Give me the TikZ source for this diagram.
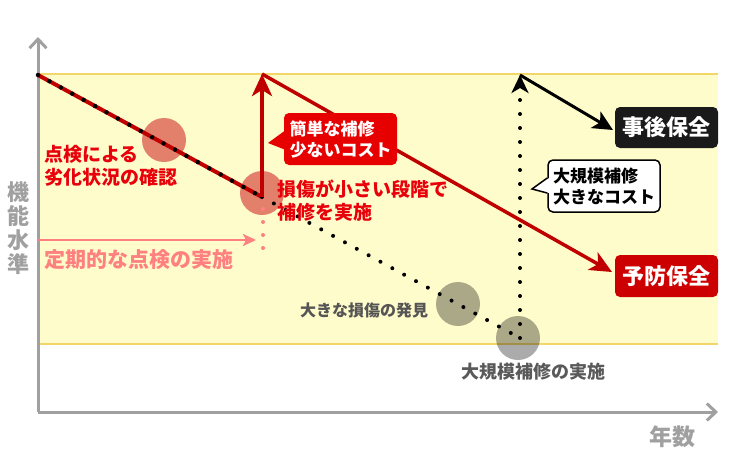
\documentclass[tikz,border=0pt]{standalone}
\usepackage{fontspec}
\setmainfont{Noto Sans CJK JP}
\usepackage{tikz}
\usetikzlibrary{arrows.meta,calc}
\definecolor{lineRed}{HTML}{C00000}
\definecolor{textRed}{HTML}{E8000B}
\definecolor{boxRed}{HTML}{E60000}
\definecolor{tagRed}{HTML}{CC0000}
\definecolor{bandYellow}{HTML}{FFFCCB}
\definecolor{bandLine}{HTML}{F3D66A}
\definecolor{axisGray}{HTML}{A0A0A0}
\definecolor{spotSalmon}{HTML}{E3806B}
\definecolor{checkPink}{HTML}{FF8080}
\definecolor{darkBox}{HTML}{1A1A1A}
\definecolor{noteGray}{HTML}{555555}
\tikzset{
  redtext/.style={font=\fontsize{19}{23}\selectfont\bfseries, text=textRed, align=left, inner sep=0pt},
  notebox/.style={rounded corners=5pt, font=\fontsize{17}{21}\selectfont\bfseries, align=left, minimum width=112pt, minimum height=52pt},
  tagbox/.style={rounded corners=5pt, font=\fontsize{22}{26}\selectfont\bfseries, text=white, minimum width=103pt, minimum height=41pt},
  dotline/.style={line width=4.5pt, dash pattern=on 0pt off 13pt, line cap=round},
  bigtip/.style={-{Stealth[length=22pt,width=20pt,inset=6pt]}}
}

\begin{document}
\begin{tikzpicture}[x=1pt, y=-1pt]
\useasboundingbox (0,0) rectangle (742,466);
% band of the function level
\fill[bandYellow] (38,74) rectangle (718,344);
\draw[bandLine, line width=2.5pt] (38,74) -- (718,74);
\draw[bandLine, line width=2.5pt] (38,344) -- (718,344);
% axes
\coordinate (origin) at (38,412);
\coordinate (ytop) at (38,37);
\coordinate (xend) at (718,412);
\draw[axisGray, line width=3pt, -{Straight Barb[length=9pt,width=17pt]}] (origin) -- (ytop);
\draw[axisGray, line width=3pt, -{Straight Barb[length=9pt,width=17pt]}] (origin) -- (xend);
\node[axisGray, font=\fontsize{22}{24}\selectfont\bfseries, align=center, inner sep=0pt] (ylabel) at (19,228) {機\\能\\水\\準};
\node[axisGray, font=\fontsize{23}{26}\selectfont\bfseries, inner sep=0pt] (xlabel) at (672,437) {年数};
% points of the curves
\coordinate (start) at (38,75);
\coordinate (small) at (262,197);
\coordinate (reset) at (262,74);
\coordinate (prevEnd) at (612,272);
\coordinate (large) at (520,338);
\coordinate (resetB) at (520,75);
\coordinate (corrEnd) at (613,130);
% spots
\fill[spotSalmon] (164,140) circle [radius=22pt];
\fill[spotSalmon] (262,193) circle [radius=22pt];
\fill[black, opacity=0.33] (458,304) circle [radius=22pt];
\fill[black, opacity=0.33] (518,338) circle [radius=22pt];
% periodic check
\coordinate (chkA) at (38,240);
\coordinate (chkB) at (256,240);
\draw[checkPink, line width=2.5pt, -{Stealth[length=13pt,width=12pt,inset=3pt]}] (chkA) -- (chkB);
\draw[checkPink, line width=4pt, dash pattern=on 0pt off 13pt, line cap=round] (263,209) -- (263,250);
% curves
\draw[lineRed, line width=4pt] (start) -- (small);
\draw[black, dotline] (start) -- (small);
\draw[black, line width=4pt, dash pattern=on 0pt off 13.5pt, line cap=round] (small) -- (large);
\draw[black, line width=4pt, dash pattern=on 0pt off 14pt, line cap=round, -{Stealth[length=18pt,width=17pt,inset=5pt]}] (large) -- (resetB);
\draw[black, line width=3pt, -{Stealth[length=20pt,width=19pt,inset=5pt]}] (resetB) -- (corrEnd);
\draw[lineRed, line width=3.5pt, bigtip] (reset) -- (prevEnd);
\draw[lineRed, line width=4pt, bigtip] (small) -- (reset);
% texts
\node[redtext, anchor=west] (check) at (44,166) {点検による\\劣化状況の確認};
\node[redtext, anchor=west] (early) at (277,201) {損傷が小さい段階で\\補修を実施};
\node[checkPink, font=\fontsize{21}{24}\selectfont\bfseries, anchor=west, inner sep=0pt] (periodic) at (44,260) {定期的な点検の実施};
\node[noteGray, font=\fontsize{16}{20}\selectfont\bfseries, inner sep=0pt] (found) at (364,310) {大きな損傷の発見};
\node[black!65, font=\fontsize{18}{22}\selectfont\bfseries, inner sep=0pt] (bigdo) at (533,372) {大規模補修の実施};
% callouts
\node[notebox, fill=boxRed, text=white, minimum width=113pt] (cheap) at (340.5,139) {簡単な補修\\少ないコスト};
\coordinate (cheapPtr) at (268,143);
\fill[boxRed] ($(cheap.west)+(2,-9)$) -- (cheapPtr) -- ($(cheap.west)+(2,11)$) -- cycle;
\node[notebox, fill=white, draw=black, line width=1.5pt, text=black] (costly) at (604,186) {大規模補修\\大きなコスト};
\coordinate (costlyPtr) at (532,189);
\fill[white] ($(costly.west)+(2,-8)$) -- (costlyPtr) -- ($(costly.west)+(2,7)$) -- cycle;
\draw[black, line width=1.5pt, line join=miter] ($(costly.west)+(0,-8)$) -- (costlyPtr) -- ($(costly.west)+(0,7)$);
\node[tagbox, fill=darkBox] (corrective) at (666.5,127.5) {事後保全};
\node[tagbox, fill=tagRed, minimum height=42pt] (preventive) at (666.5,276) {予防保全};
\end{tikzpicture}
\end{document}
